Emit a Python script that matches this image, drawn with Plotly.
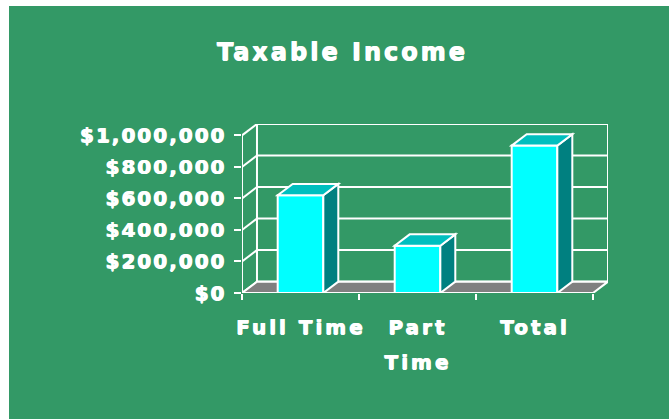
import plotly.graph_objects as go

# --- data ---------------------------------------------------------------
categories = ["Full Time", "Part<br>Time", "Total"]
income = [620000, 300000, 935000]
y_ticks = [0, 200000, 400000, 600000, 800000, 1000000]
y_tick_labels = ["$0", "$200,000", "$400,000", "$600,000", "$800,000", "$1,000,000"]

# --- styling ------------------------------------------------------------
GREEN = "#339966"
FRONT = "#00FFFF"
SIDE = "#008080"
TOP = "#00BFBF"
FLOOR = "#808080"
WHITE = "#FFFFFF"
FONT = "DejaVu Sans"
HEAVY = "1px 0 0 #fff, 0.5px 0.5px 0 #fff"   # thickens the bold glyphs

W, H = 669, 419
ML, MR, MT, MB = 242, 61, 124, 126

BAR_W = 0.39          # bar width in category units
DX = 0.128            # depth offset along x (category units)
DY = 72000            # depth offset along y (dollars)
X0, X1 = -0.5, len(categories) - 0.5
Y_TOP = max(y_ticks)

LABEL_PX = 20         # glyph size of the category labels
LINE_BOX = 27         # font size that sets the line pitch of wrapped labels


def spaced(txt, px, size=None):
    style = f"letter-spacing:{px}px"
    if size:
        style += f";font-size:{size}px"
    return f"<span style='{style}'>{txt}</span>"


def cat_label(txt):
    return "<br>".join(spaced(part, 3, LABEL_PX) for part in txt.split("<br>"))


xs = list(range(len(categories)))

fig = go.Figure()
fig.add_trace(go.Bar(
    x=xs, y=income, width=BAR_W,
    marker=dict(color=FRONT, line=dict(color=WHITE, width=2)),
    hoverinfo="skip",
))

shapes = []

def poly(pts, fill, layer, lw=2):
    path = "M " + " L ".join(f"{x},{y}" for x, y in pts) + " Z"
    return dict(type="path", path=path, xref="x", yref="y",
                fillcolor=fill, line=dict(color=WHITE, width=lw), layer=layer)

def seg(xa, ya, xb, yb, layer="below", lw=2):
    return dict(type="line", x0=xa, y0=ya, x1=xb, y1=yb, xref="x", yref="y",
                line=dict(color=WHITE, width=lw), layer=layer)

# back wall and its gridlines
shapes.append(poly([(X0 + DX, DY), (X1 + DX, DY), (X1 + DX, Y_TOP + DY),
                    (X0 + DX, Y_TOP + DY)], "rgba(0,0,0,0)", "below"))
for v in y_ticks:
    shapes.append(seg(X0 + DX, v + DY, X1 + DX, v + DY))
    shapes.append(seg(X0, v, X0 + DX, v + DY))
# left wall front edge
shapes.append(seg(X0, 0, X0, Y_TOP))
# floor
shapes.append(poly([(X0, 0), (X1, 0), (X1 + DX, DY), (X0 + DX, DY)], FLOOR, "below"))

# side and top faces of each bar
for x, v in zip(xs, income):
    xl, xr = x - BAR_W / 2, x + BAR_W / 2
    shapes.append(poly([(xr, 0), (xr + DX, DY), (xr + DX, v + DY), (xr, v)], SIDE, "above"))
    shapes.append(poly([(xl, v), (xr, v), (xr + DX, v + DY), (xl + DX, v + DY)], TOP, "above"))

# white border strips at the left and top of the page
pw = W - ML - MR
ph = H - MT - MB
def px_x(p):
    return (p - ML) / pw
def px_y(p):
    return 1 - (p - MT) / ph
shapes.append(dict(type="rect", xref="paper", yref="paper",
                   x0=px_x(0), x1=px_x(9), y0=px_y(H), y1=px_y(0),
                   fillcolor=WHITE, line=dict(width=0), layer="below"))
shapes.append(dict(type="rect", xref="paper", yref="paper",
                   x0=px_x(0), x1=px_x(W), y0=px_y(6), y1=px_y(0),
                   fillcolor=WHITE, line=dict(width=0), layer="below"))

fig.update_layout(
    width=W, height=H,
    margin=dict(l=ML, r=MR, t=MT, b=MB, pad=0),
    paper_bgcolor=GREEN, plot_bgcolor="rgba(0,0,0,0)",
    showlegend=False,
    title=dict(text=spaced("Taxable Income", 3), x=342 / W, xanchor="center",
               xref="container", y=1 - 52 / H, yref="container", yanchor="middle",
               font=dict(family=FONT, size=24, color=WHITE, weight="bold", shadow=HEAVY)),
    xaxis=dict(
        range=[X0, X1 + DX], tickmode="array", tickvals=xs,
        ticktext=[cat_label(c) for c in categories],
        ticks="", showgrid=False, zeroline=False, showline=False,
        tickfont=dict(family=FONT, size=LINE_BOX, color=WHITE, weight="bold", shadow=HEAVY),
        ticklabelstandoff=13,
        minor=dict(tickmode="array", tickvals=[X0 + i for i in range(len(categories) + 1)],
                   ticks="outside", ticklen=6, tickwidth=2, tickcolor=WHITE, showgrid=False),
    ),
    yaxis=dict(
        range=[0, Y_TOP + DY], tickmode="array", tickvals=y_ticks,
        ticktext=[spaced(t, 2) for t in y_tick_labels],
        ticks="outside", ticklen=7, tickwidth=2, tickcolor=WHITE,
        showgrid=False, zeroline=False, showline=False,
        tickfont=dict(family=FONT, size=20, color=WHITE, weight="bold", shadow=HEAVY),
        ticklabelstandoff=4,
    ),
    shapes=shapes,
)

fig.write_html("out.html")
